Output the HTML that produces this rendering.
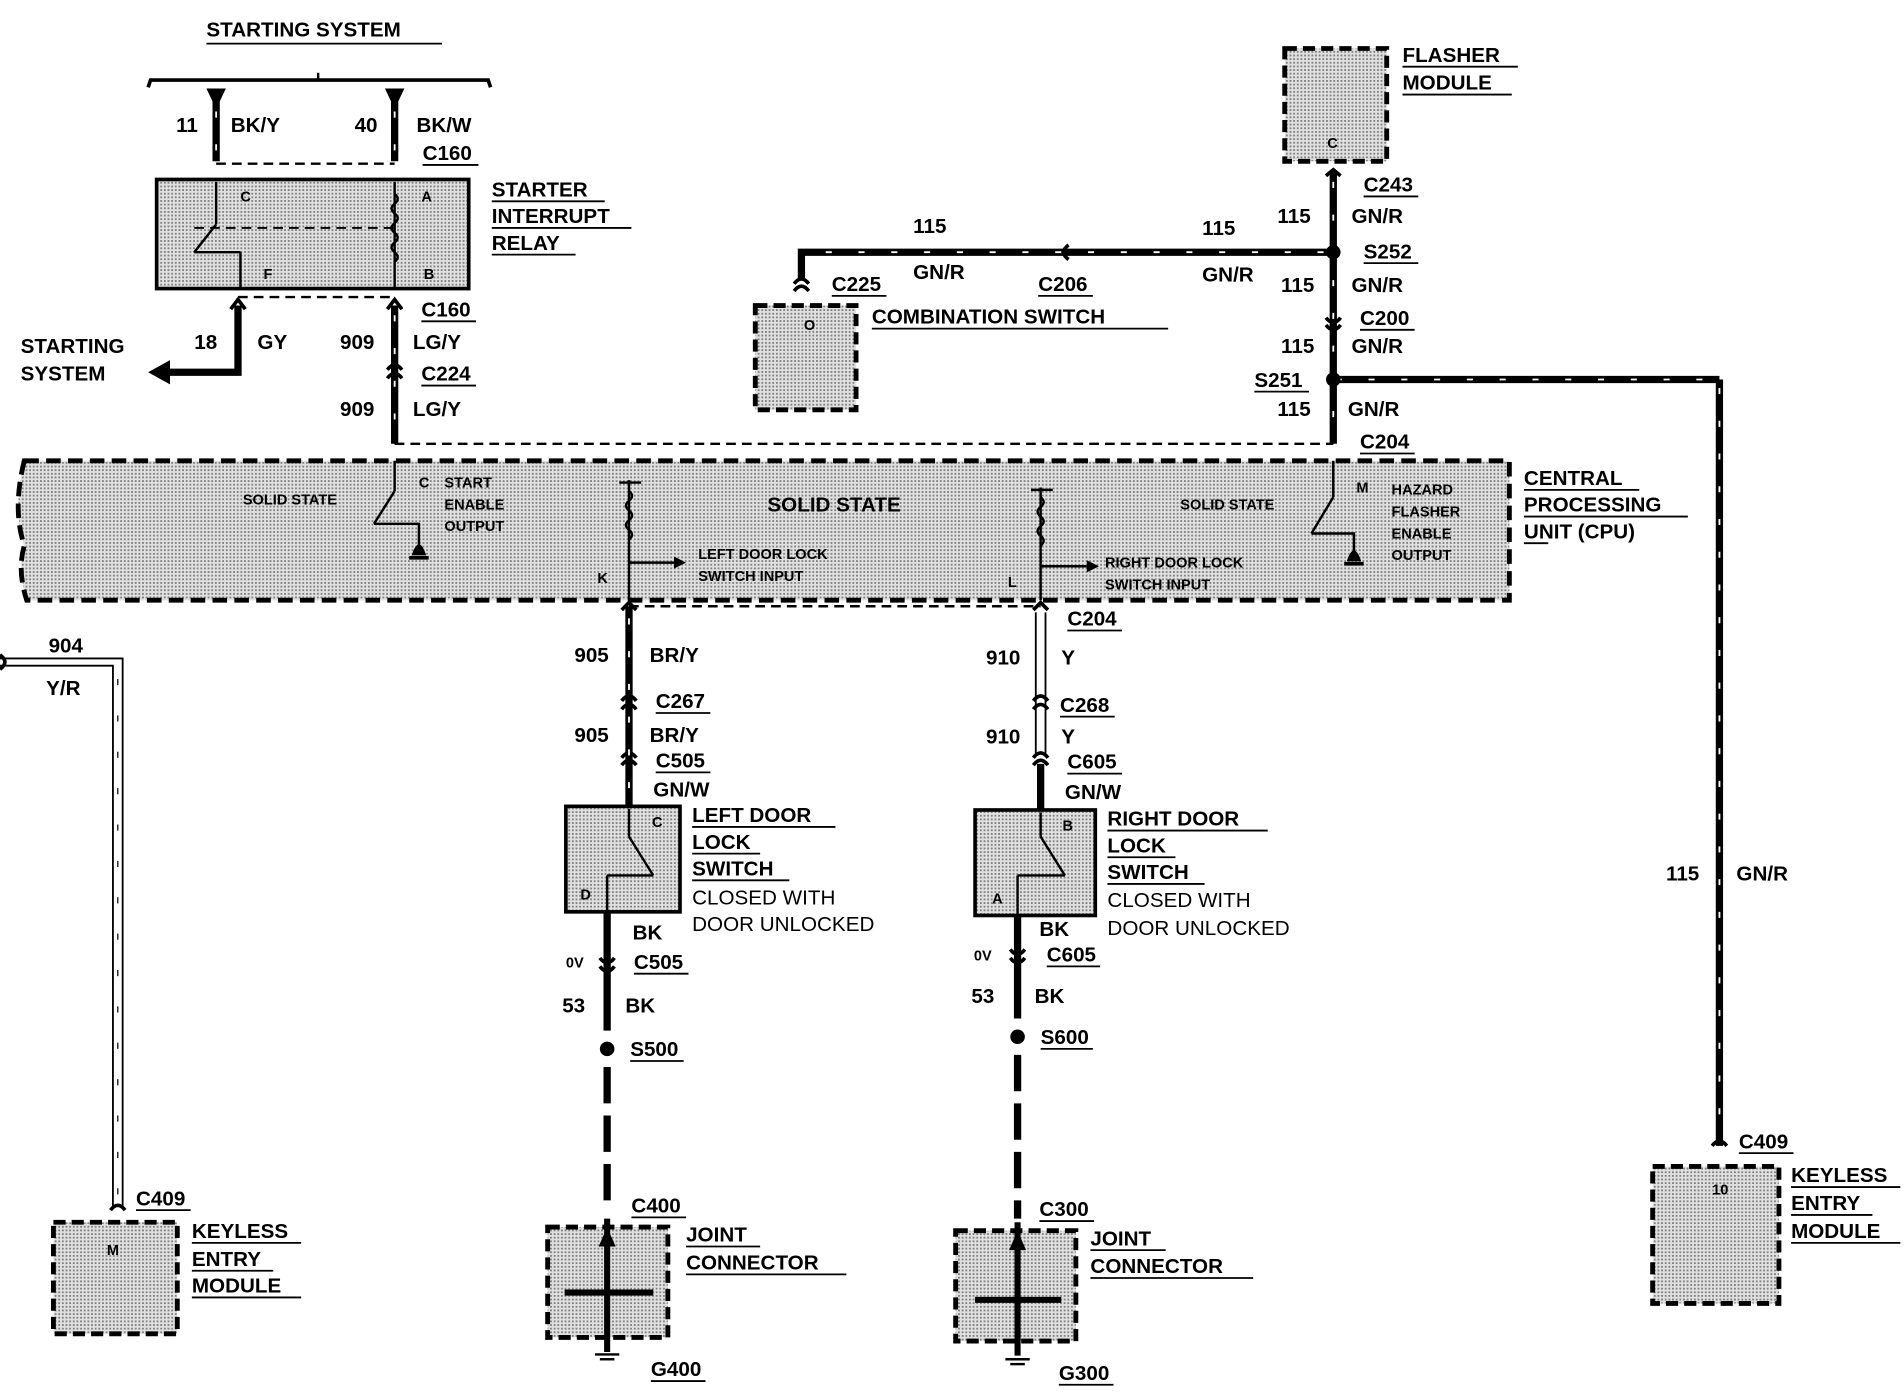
<!DOCTYPE html>
<html><head><meta charset="utf-8"><style>
html,body{margin:0;padding:0;background:#fff;}
svg{display:block;}
text{font-family:"Liberation Sans",sans-serif;font-weight:bold;fill:#000;}
.l{font-size:17px;}
.s{font-size:12px;font-weight:normal;}
</style></head><body>
<svg width="1904" height="1392" viewBox="0 0 1568 1148" preserveAspectRatio="none" xmlns="http://www.w3.org/2000/svg">
<defs>
<pattern id="dt" width="3" height="3" patternUnits="userSpaceOnUse">
<rect width="3" height="3" fill="#e0e0e0"/><rect width="1.5" height="1.5" fill="#808080"/>
</pattern>
</defs>
<g stroke="#000" fill="none">
<path d="M122 72 L124 66 L402 66 L404 72" stroke-width="3"/>
<line x1="262" y1="66" x2="262" y2="60" stroke-width="2"/>
<line x1="178" y1="80" x2="178" y2="133" stroke-width="6"/>
<line x1="325" y1="80" x2="325" y2="133" stroke-width="6"/>
<line x1="178" y1="135" x2="325" y2="135" stroke-width="2" stroke-dasharray="8,5"/>
<rect x="129" y="148" width="257" height="90" fill="url(#dt)" stroke-width="3"/>
<line x1="178" y1="150" x2="178" y2="185" stroke-width="2"/>
<line x1="178" y1="185" x2="160" y2="208" stroke-width="2"/>
<line x1="160" y1="208" x2="198" y2="208" stroke-width="2"/>
<line x1="198" y1="208" x2="198" y2="238" stroke-width="2"/>
<line x1="160" y1="188" x2="325" y2="188" stroke-width="1.5" stroke-dasharray="8,5"/>
<line x1="325" y1="150" x2="325" y2="238" stroke-width="2"/>
<path d="M325 160 q5 4 0 8 q-5 4 0 8 q5 4 0 8 q-5 4 0 8 q5 4 0 8 q-5 4 0 8 q5 4 0 8" stroke-width="2"/>
<path d="M196 252 L196 307 L135 307" stroke-width="6"/>
<line x1="325" y1="252" x2="325" y2="366" stroke-width="6"/>
<line x1="196" y1="245" x2="325" y2="245" stroke-width="2" stroke-dasharray="8,5"/>
<line x1="325" y1="366" x2="1098" y2="366" stroke-width="2" stroke-dasharray="8,5"/>
<path d="M20 380 L1243 380 L1243 495 L22 495 Q14 470 20 450 Q10 420 20 380 Z" fill="url(#dt)" stroke-width="4" stroke-dasharray="12,6"/>
<line x1="325" y1="380" x2="325" y2="405" stroke-width="2"/>
<line x1="325" y1="405" x2="308" y2="432" stroke-width="2"/>
<path d="M308 432 L345 432 L345 450" stroke-width="2"/>
<line x1="337" y1="460" x2="353" y2="460" stroke-width="3"/>
<line x1="518" y1="396" x2="518" y2="495" stroke-width="2"/>
<path d="M518 405 q5 4 0 8 q-5 4 0 8 q5 4 0 8 q-5 4 0 8 q5 4 0 8" stroke-width="2"/>
<line x1="510" y1="398" x2="528" y2="398" stroke-width="2"/>
<line x1="518" y1="464" x2="555" y2="464" stroke-width="2"/>
<line x1="857" y1="402" x2="857" y2="495" stroke-width="2"/>
<path d="M857 410 q5 4 0 8 q-5 4 0 8 q5 4 0 8 q-5 4 0 8 q5 4 0 8" stroke-width="2"/>
<line x1="849" y1="404" x2="867" y2="404" stroke-width="2"/>
<line x1="857" y1="467" x2="895" y2="467" stroke-width="2"/>
<line x1="1098" y1="380" x2="1098" y2="410" stroke-width="2"/>
<line x1="1098" y1="410" x2="1080" y2="440" stroke-width="2"/>
<path d="M1080 440 L1115 440 L1115 455" stroke-width="2"/>
<line x1="1107" y1="465" x2="1123" y2="465" stroke-width="3"/>
<rect x="1058" y="40" width="84" height="93" fill="url(#dt)" stroke-width="4" stroke-dasharray="10,5"/>
<line x1="1098" y1="142" x2="1098" y2="366" stroke-width="6"/>
<path d="M1098 208 L660 208 L660 230" stroke-width="6"/>
<line x1="1098" y1="313" x2="1416" y2="313" stroke-width="6"/>
<line x1="1416" y1="313" x2="1416" y2="945" stroke-width="6"/>
<rect x="622" y="252" width="83" height="86" fill="url(#dt)" stroke-width="4" stroke-dasharray="10,5"/>
<rect x="1361" y="962" width="104" height="113" fill="url(#dt)" stroke-width="4" stroke-dasharray="10,5"/>
<line x1="518" y1="500" x2="518" y2="665" stroke-width="6"/>
<line x1="518" y1="500" x2="857" y2="500" stroke-width="2" stroke-dasharray="8,5"/>
<rect x="466" y="665" width="94" height="87" fill="url(#dt)" stroke-width="3"/>
<line x1="518" y1="667" x2="518" y2="690" stroke-width="2"/>
<line x1="518" y1="690" x2="538" y2="722" stroke-width="2"/>
<path d="M500 722 L538 722" stroke-width="2"/>
<line x1="500" y1="722" x2="500" y2="752" stroke-width="2"/>
<line x1="500" y1="752" x2="500" y2="850" stroke-width="6"/>
<line x1="500" y1="880" x2="500" y2="1000" stroke-width="6" stroke-dasharray="30,10"/>
<rect x="451" y="1012" width="99" height="91" fill="url(#dt)" stroke-width="4" stroke-dasharray="10,5"/>
<line x1="500" y1="1005" x2="500" y2="1115" stroke-width="5"/>
<line x1="465" y1="1066" x2="538" y2="1066" stroke-width="5"/>
<line x1="490" y1="1117" x2="510" y2="1117" stroke-width="2"/>
<line x1="494" y1="1121" x2="506" y2="1121" stroke-width="2"/>
<line x1="853" y1="505" x2="853" y2="622" stroke-width="1.5"/>
<line x1="861" y1="505" x2="861" y2="622" stroke-width="1.5"/>
<line x1="857" y1="630" x2="857" y2="668" stroke-width="6"/>
<rect x="803" y="668" width="99" height="87" fill="url(#dt)" stroke-width="3"/>
<line x1="857" y1="670" x2="857" y2="690" stroke-width="2"/>
<line x1="857" y1="690" x2="877" y2="722" stroke-width="2"/>
<path d="M838 722 L877 722" stroke-width="2"/>
<line x1="838" y1="722" x2="838" y2="755" stroke-width="2"/>
<line x1="838" y1="755" x2="838" y2="840" stroke-width="6"/>
<line x1="838" y1="870" x2="838" y2="1005" stroke-width="6" stroke-dasharray="30,10"/>
<rect x="787" y="1015" width="99" height="91" fill="url(#dt)" stroke-width="4" stroke-dasharray="10,5"/>
<line x1="838" y1="1008" x2="838" y2="1118" stroke-width="5"/>
<line x1="803" y1="1072" x2="874" y2="1072" stroke-width="5"/>
<line x1="828" y1="1121" x2="848" y2="1121" stroke-width="2"/>
<line x1="832" y1="1125" x2="844" y2="1125" stroke-width="2"/>
<path d="M0 543 L101 543 L101 995" stroke-width="1.5"/>
<path d="M0 549 L93 549 L93 995" stroke-width="1.5"/>
<rect x="44" y="1008" width="102" height="92" fill="url(#dt)" stroke-width="4" stroke-dasharray="10,5"/>
<!-- connector chevrons -->
<g stroke-width="3">
<path d="M190 255 L196 247 L202 255"/><path d="M319 255 L325 247 L331 255"/>
<path d="M319 305 q6 -8 12 0"/><path d="M319 312 q6 -8 12 0"/>
<path d="M1092 145 L1098 140 L1104 145"/>
<path d="M1092 262 q6 8 12 0"/><path d="M1092 268 q6 8 12 0"/>
<path d="M654 240 q6 -8 12 0"/><path d="M654 234 q6 -8 12 0"/>
<path d="M880 202 q-8 6 0 12"/>
<path d="M512 503 L518 497 L524 503"/><path d="M851 503 L857 497 L863 503"/>
<path d="M512 578 q6 -8 12 0"/><path d="M512 585 q6 -8 12 0"/>
<path d="M512 625 q6 -8 12 0"/><path d="M512 631 q6 -8 12 0"/>
<path d="M851 578 q6 -8 12 0"/><path d="M851 585 q6 -8 12 0"/>
<path d="M851 625 q6 -8 12 0"/><path d="M851 631 q6 -8 12 0"/>
<path d="M494 790 q6 8 12 0"/><path d="M494 797 q6 8 12 0"/>
<path d="M832 783 q6 8 12 0"/><path d="M832 790 q6 8 12 0"/>
<path d="M1410 945 q6 -8 12 0"/>
<path d="M91 998 q6 -8 12 0"/>
<path d="M0 540 q8 6 0 12"/>
</g>
<!-- wire stripes -->
<g stroke="#fff" stroke-width="1.5" stroke-dasharray="5,22">
<line x1="1098" y1="150" x2="1098" y2="360"/>
<line x1="1100" y1="313" x2="1410" y2="313"/>
<line x1="1416" y1="320" x2="1416" y2="940"/>
<line x1="1090" y1="208" x2="665" y2="208"/>
<line x1="178" y1="92" x2="178" y2="133"/><line x1="325" y1="92" x2="325" y2="133"/>
<line x1="325" y1="260" x2="325" y2="360"/>
<line x1="518" y1="510" x2="518" y2="660"/>
</g>
<g stroke="#000" stroke-width="1" stroke-dasharray="5,25">
<line x1="97" y1="560" x2="97" y2="990"/>
</g>
</g>
<g fill="#000">
<polygon points="170,73 186,73 178,90"/><polygon points="317,73 333,73 325,90"/>
<polygon points="122,307 140,297 140,317"/>
<circle cx="1098" cy="208" r="6"/><circle cx="1098" cy="313" r="6"/>
<circle cx="500" cy="865" r="6"/><circle cx="838" cy="855" r="6"/>
<polygon points="555,459 565,464 555,469"/><polygon points="895,462 905,467 895,472"/>
<polygon points="493,1028 500,1012 507,1028"/><polygon points="831,1031 838,1015 845,1031"/>
<path d="M339 458 q6 -18 12 0 z"/><path d="M1109 463 q6 -18 12 0 z"/>
</g>
<g class="l">
<text x="170" y="30">STARTING SYSTEM</text>
<text x="145" y="109">11</text><text x="190" y="109">BK/Y</text>
<text x="292" y="109">40</text><text x="343" y="109">BK/W</text>
<text x="348" y="132">C160</text>
<text x="405" y="162">STARTER</text><text x="405" y="184">INTERRUPT</text><text x="405" y="206">RELAY</text>
<text x="17" y="291">STARTING</text><text x="17" y="314">SYSTEM</text>
<text x="160" y="288">18</text><text x="212" y="288">GY</text>
<text x="347" y="261">C160</text>
<text x="280" y="288">909</text><text x="340" y="288">LG/Y</text>
<text x="347" y="314">C224</text>
<text x="280" y="343">909</text><text x="340" y="343">LG/Y</text>
<text x="1155" y="51">FLASHER</text><text x="1155" y="74">MODULE</text>
<text x="1123" y="158">C243</text>
<text x="1052" y="184">115</text><text x="1113" y="184">GN/R</text>
<text x="1123" y="213">S252</text>
<text x="990" y="194">115</text><text x="752" y="192">115</text>
<text x="990" y="232">GN/R</text><text x="752" y="230">GN/R</text>
<text x="685" y="240">C225</text><text x="855" y="240">C206</text>
<text x="718" y="267">COMBINATION SWITCH</text>
<text x="1055" y="241">115</text><text x="1113" y="241">GN/R</text>
<text x="1120" y="268">C200</text>
<text x="1055" y="291">115</text><text x="1113" y="291">GN/R</text>
<text x="1033" y="319">S251</text>
<text x="1052" y="343">115</text><text x="1110" y="343">GN/R</text>
<text x="1120" y="370">C204</text>
<text x="1255" y="400">CENTRAL</text><text x="1255" y="422">PROCESSING</text><text x="1255" y="444">UNIT (CPU)</text>
<text x="632" y="422">SOLID STATE</text>
<text x="879" y="516">C204</text>
<text x="473" y="546">905</text><text x="535" y="546">BR/Y</text>
<text x="540" y="584">C267</text>
<text x="473" y="612">905</text><text x="535" y="612">BR/Y</text>
<text x="540" y="633">C505</text><text x="538" y="657">GN/W</text>
<text x="570" y="678">LEFT DOOR</text><text x="570" y="700">LOCK</text><text x="570" y="722">SWITCH</text>
<text x="570" y="746" style="font-weight:normal">CLOSED WITH</text><text x="570" y="768" style="font-weight:normal">DOOR UNLOCKED</text>
<text x="521" y="775">BK</text><text x="522" y="799">C505</text>
<text x="463" y="835">53</text><text x="515" y="835">BK</text>
<text x="519" y="871">S500</text>
<text x="520" y="1000">C400</text>
<text x="565" y="1024">JOINT</text><text x="565" y="1047">CONNECTOR</text>
<text x="536" y="1135">G400</text>
<text x="812" y="548">910</text><text x="874" y="548">Y</text>
<text x="873" y="587">C268</text>
<text x="812" y="613">910</text><text x="874" y="613">Y</text>
<text x="879" y="634">C605</text><text x="877" y="659">GN/W</text>
<text x="912" y="681">RIGHT DOOR</text><text x="912" y="703">LOCK</text><text x="912" y="725">SWITCH</text>
<text x="912" y="748" style="font-weight:normal">CLOSED WITH</text><text x="912" y="771" style="font-weight:normal">DOOR UNLOCKED</text>
<text x="856" y="772">BK</text><text x="862" y="793">C605</text>
<text x="800" y="827">53</text><text x="852" y="827">BK</text>
<text x="857" y="861">S600</text>
<text x="856" y="1003">C300</text>
<text x="898" y="1027">JOINT</text><text x="898" y="1050">CONNECTOR</text>
<text x="872" y="1138">G300</text>
<text x="1372" y="726">115</text><text x="1430" y="726">GN/R</text>
<text x="1432" y="947">C409</text>
<text x="1475" y="975">KEYLESS</text><text x="1475" y="998">ENTRY</text><text x="1475" y="1021">MODULE</text>
<text x="40" y="538">904</text><text x="38" y="573">Y/R</text>
<text x="112" y="994">C409</text>
<text x="158" y="1021">KEYLESS</text><text x="158" y="1044">ENTRY</text><text x="158" y="1066">MODULE</text>
</g>
<g class="s">
<text x="200" y="416">SOLID STATE</text>
<text x="345" y="402">C</text><text x="366" y="402">START</text><text x="366" y="420">ENABLE</text><text x="366" y="438">OUTPUT</text>
<text x="575" y="461">LEFT DOOR LOCK</text><text x="575" y="479">SWITCH INPUT</text>
<text x="492" y="481">K</text><text x="830" y="484">L</text>
<text x="910" y="468">RIGHT DOOR LOCK</text><text x="910" y="486">SWITCH INPUT</text>
<text x="972" y="420">SOLID STATE</text>
<text x="1117" y="406">M</text><text x="1146" y="408">HAZARD</text><text x="1146" y="426">FLASHER</text><text x="1146" y="444">ENABLE</text><text x="1146" y="462">OUTPUT</text>
<text x="198" y="166">C</text><text x="347" y="166">A</text><text x="217" y="230">F</text><text x="349" y="230">B</text>
<text x="1093" y="122">C</text><text x="662" y="272">O</text>
<text x="537" y="682">C</text><text x="478" y="742">D</text>
<text x="875" y="685">B</text><text x="817" y="745">A</text>
<text x="88" y="1035">M</text><text x="1410" y="985">10</text>
<text x="466" y="798">0V</text><text x="802" y="792">0V</text>
</g>
<g stroke="#000" stroke-width="1.5">
<line x1="170" y1="36" x2="364" y2="36"/>
<line x1="348" y1="136" x2="394" y2="136"/>
<line x1="405" y1="166" x2="498" y2="166"/><line x1="405" y1="188" x2="520" y2="188"/><line x1="405" y1="210" x2="474" y2="210"/>
<line x1="347" y1="265" x2="392" y2="265"/><line x1="347" y1="318" x2="392" y2="318"/>
<line x1="1155" y1="55" x2="1250" y2="55"/><line x1="1155" y1="78" x2="1245" y2="78"/>
<line x1="1123" y1="162" x2="1168" y2="162"/><line x1="1123" y1="217" x2="1168" y2="217"/>
<line x1="685" y1="244" x2="730" y2="244"/><line x1="855" y1="244" x2="900" y2="244"/>
<line x1="718" y1="271" x2="962" y2="271"/>
<line x1="1120" y1="272" x2="1165" y2="272"/><line x1="1033" y1="323" x2="1078" y2="323"/><line x1="1120" y1="374" x2="1165" y2="374"/>
<line x1="1255" y1="404" x2="1350" y2="404"/><line x1="1255" y1="426" x2="1390" y2="426"/><line x1="1255" y1="448" x2="1275" y2="448"/>
<line x1="879" y1="520" x2="924" y2="520"/><line x1="540" y1="588" x2="585" y2="588"/><line x1="540" y1="637" x2="585" y2="637"/>
<line x1="570" y1="682" x2="688" y2="682"/><line x1="570" y1="704" x2="626" y2="704"/><line x1="570" y1="726" x2="650" y2="726"/>
<line x1="522" y1="803" x2="567" y2="803"/><line x1="519" y1="875" x2="563" y2="875"/><line x1="520" y1="1004" x2="565" y2="1004"/>
<line x1="565" y1="1028" x2="626" y2="1028"/><line x1="565" y1="1051" x2="697" y2="1051"/><line x1="536" y1="1139" x2="581" y2="1139"/>
<line x1="873" y1="591" x2="918" y2="591"/><line x1="879" y1="638" x2="924" y2="638"/>
<line x1="912" y1="685" x2="1044" y2="685"/><line x1="912" y1="707" x2="968" y2="707"/><line x1="912" y1="729" x2="992" y2="729"/>
<line x1="862" y1="797" x2="906" y2="797"/><line x1="857" y1="865" x2="900" y2="865"/><line x1="856" y1="1007" x2="901" y2="1007"/>
<line x1="898" y1="1031" x2="960" y2="1031"/><line x1="898" y1="1054" x2="1032" y2="1054"/><line x1="872" y1="1142" x2="917" y2="1142"/>
<line x1="1432" y1="951" x2="1477" y2="951"/>
<line x1="1475" y1="979" x2="1565" y2="979"/><line x1="1475" y1="1002" x2="1542" y2="1002"/><line x1="1475" y1="1025" x2="1565" y2="1025"/>
<line x1="112" y1="998" x2="157" y2="998"/>
<line x1="158" y1="1025" x2="248" y2="1025"/><line x1="158" y1="1048" x2="225" y2="1048"/><line x1="158" y1="1070" x2="248" y2="1070"/>
</g>
</svg>
</body></html>
